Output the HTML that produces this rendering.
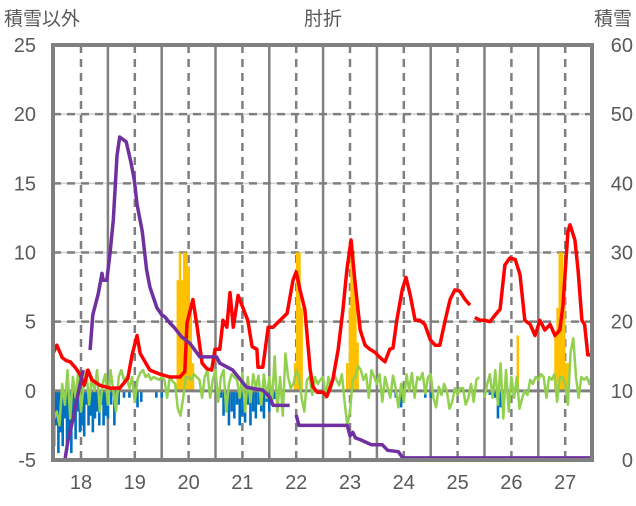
<!DOCTYPE html>
<html><head><meta charset="utf-8"><style>
body{margin:0;background:#fff;}
svg text{font-family:"Liberation Sans","Noto Sans CJK JP",sans-serif;fill:#595959;}
</style></head><body>
<svg id="c" width="636" height="501" xmlns="http://www.w3.org/2000/svg"></svg>
<script>
const xTicks=[18,19,20,21,22,23,24,25,26,27];
const leftTicks=[-5,0,5,10,15,20,25];
const rightTicks=[0,10,20,30,40,50,60];
const redT=[17.48,17.55,17.65,17.72,17.80,17.89,17.98,18.06,18.13,18.20,18.35,18.54,18.72,18.87,18.95,19.04,19.10,19.19,19.28,19.47,19.65,19.84,19.93,19.97,20.08,20.16,20.25,20.34,20.43,20.49,20.58,20.64,20.71,20.77,20.83,20.92,21.01,21.10,21.18,21.27,21.29,21.38,21.48,21.57,21.70,21.83,21.94,22.00,22.07,22.16,22.26,22.31,22.39,22.50,22.57,22.68,22.78,22.87,22.94,23.02,23.09,23.19,23.28,23.37,23.46,23.56,23.65,23.74,23.80,23.87,23.97,24.04,24.12,24.21,24.30,24.39,24.49,24.58,24.67,24.77,24.86,24.95,25.04,25.14,25.23];
const redV=[2.7,3.3,2.4,2.2,2.1,1.7,1.2,0.4,1.5,0.8,0.4,0.2,0.2,0.9,2.6,4.0,2.7,2.1,1.5,1.2,1.0,1.0,1.4,4.9,6.6,4.6,2.0,1.6,1.5,3.0,3.0,5.1,4.6,7.1,4.6,6.9,6.0,5.1,3.2,3.0,1.7,1.7,4.6,4.6,5.1,5.6,8.0,8.6,7.3,5.9,1.5,0.3,-0.1,-0.1,-0.4,0.8,3.0,5.9,8.7,10.9,8.0,4.4,3.3,3.0,2.8,2.4,2.1,3.0,3.1,5.1,7.3,8.2,6.9,5.1,5.1,4.8,3.7,3.3,3.3,5.1,6.6,7.3,7.2,6.6,6.2];
const redT2=[25.32,25.42,25.51,25.60,25.70,25.79,25.88,25.97,26.07,26.16,26.25,26.35,26.44,26.53,26.62,26.72,26.81,26.90,26.96,27.05,27.09,27.18,27.24,27.31,27.36,27.42,27.5];
const redV2=[5.3,5.1,5.1,5.0,5.5,5.9,9.1,9.6,9.5,8.4,5.1,4.8,4.0,5.1,4.4,4.8,4.0,4.4,6.2,11.5,12.0,10.9,8.7,5.1,4.8,2.6,2.6];
const greenV=[-2,-1.5,-2.5,0.5,-1,1.5,-2,1,-0.5,1.5,-1.5,0.5,1.5,-1,1,0,1.5,-1.5,0.5,1.2,
-1,1.5,0,-1.5,1,1.5,0.8,1,0.2,1,-0.8,0.8,1.3,1.5,1,1.2,0.8,1.0,0.9,0.8,
1,0.8,-0.5,1,0.7,0.5,-1.3,-1.8,-0.5,1,1,0.8,1.2,1.0,0.8,-0.5,1,1.5,-0.5,0.8,
1.5,-0.8,1,1.5,-1.5,0.5,1.2,1,0.8,-0.5,1.3,-1.5,1,-0.8,1.2,0.2,1.1,-1,1.2,-0.5,
1,-0.8,2.5,-1.5,1,-1.8,2.7,1,0.2,0.5,1.5,1.0,-0.5,-1.5,0.8,1,-0.3,1,0.5,0.8,
1,-0.5,1,0.2,1.2,0.8,0.4,1.2,-0.8,-2.5,-1.5,0.8,1,1.8,1.5,0.8,1.2,-0.5,1.5,1,
0.5,1.2,-0.8,1,0.2,-0.5,1.1,0.2,-1.2,0.5,-0.8,1.2,0,1.3,-0.5,1,0.8,1.3,-0.2,1,
1.2,-0.5,-1.2,0.3,-0.3,0.5,0,-1.3,-0.8,0.2,-0.3,0.2,0.2,-1,-0.5,0.5,-0.8,0.8,1,null,
-0.5,0.5,1.2,-0.5,1.5,-1,2,-2,1.5,-1.5,1,-0.5,1,-1.3,-0.5,0,-0.3,0.8,0.5,1,
0.8,1.2,1.0,-0.5,1.0,0.8,1.2,-0.8,1,1,0.5,-1,2.8,3.8,1,-0.5,1,0.8,1,0.5,1.2];
const greenStart=17.5, greenStep=0.05;
const blueT=[17.5,17.54,17.58,17.62,17.66,17.7,17.74,17.78,17.82,17.86,17.9,17.94,17.98,18.02,18.06,18.1,18.14,18.18,18.22,18.26,18.3,18.34,18.38,18.42,18.46,18.5,18.56,18.62,18.7,18.8,18.9,19.05,19.12,19.4,19.5,20.6,20.65,20.7,20.75,20.8,20.85,20.9,20.95,21.0,21.05,21.1,21.15,21.2,21.25,21.3,21.35,21.4,21.45,21.5,21.55,21.6,23.85,23.95,24.0,24.4,24.5,25.6,25.7,25.75,25.8,25.85];
const blueV=[-4,-2.5,-4.5,-3,-4,-2,-4.3,-3,-4.5,-2,-3.5,-1.5,-3,-2.5,-3.3,-1,-2.5,-1.8,-3,-2,-1.5,-2.5,-1,-2.5,-1.8,-2,-1,-2.5,-1,-0.5,-0.5,-1.2,-0.8,-0.5,-0.5,-0.5,-1.8,-1,-2.5,-1.5,-2,-1,-2.5,-1.8,-2.3,-1,-2.5,-1.5,-2,-1,-1.5,-2,-0.8,-1.5,-1,-0.6,-0.5,-1.2,-0.5,-0.5,-0.5,-0.3,-0.5,-2,-1.2,-0.8];
const orangeT=[19.8,19.84,19.88,19.92,19.96,20.0,20.04,20.08,21.98,22.02,22.06,22.1,22.95,23.0,23.03,23.06,23.1,23.14,26.12,26.82,26.86,26.9,26.94,26.98,27.02,27.06];
const orangeV=[8,10,8,10,10,9,6,2,2,10,10,6,2,6,10,10,7,3.5,4,4,6,10,10,7,2,2];
const purpleT=[17.48,17.70,17.76,17.85,17.94,18.04];
const purpleV=[0,0,2.9,5.8,9.4,13];
const purpleT2=[18.17,18.22,18.32,18.39,18.41,18.48,18.54,18.60,18.67,18.72,18.84,18.93,18.99,19.04,19.14,19.22,19.28,19.41,19.50,19.56,19.65,19.74,19.87,20.02,20.21,20.52,20.58,20.82,21.08,21.38,21.51,21.57,21.88];
const purpleV2=[15.9,21.0,24.0,27.0,26.0,26.0,30.0,34.7,44.0,46.7,46.0,43.0,40.5,37.0,33.0,27.5,25.0,22.0,21.0,20.7,19.8,19.1,17.8,16.9,14.9,14.9,14.0,13.0,10.5,10.1,9.1,7.9,7.9];
const purpleT3=[22.0,22.05,22.5,22.95,23.0,23.05,23.1,23.2,23.4,23.6,23.7,23.9,23.98,27.5];
const purpleV3=[6.5,5.0,5.0,5.0,3.5,4.0,3.2,2.9,2.2,2.2,1.4,1.2,0.3,0.3];

const L=53,R=592,T=45,B=460;
const xs=t=>81+(t-18)*53.8;
const yl=v=>B-(v+5)/30*(B-T);
const yr=v=>B-v/60*(B-T);
const svg=document.getElementById('c');
const NS='http://www.w3.org/2000/svg';
function el(tag,attrs,parent){const e=document.createElementNS(NS,tag);for(const k in attrs)e.setAttribute(k,attrs[k]);(parent||svg).appendChild(e);return e;}
const grid=el('g',{});


leftTicks.forEach(v=>{if(v>-5&&v<25)el('line',{x1:L,x2:R,y1:yl(v),y2:yl(v),stroke:'#d0d0d0','stroke-width':1.5},grid);});
leftTicks.forEach(v=>{if(v>-5&&v<25)el('line',{x1:L,x2:R,y1:yl(v),y2:yl(v),stroke:'#7f7f7f','stroke-width':2.5,'stroke-dasharray':'8,6'},grid);});
for(let y=17.5;y<=27.5;y+=1){const x=xs(y);if(x>L+2&&x<R-2)el('line',{x1:x,x2:x,y1:T,y2:B,stroke:'#808080','stroke-width':2.5},grid);}
xTicks.forEach(t=>el('line',{x1:xs(t),x2:xs(t),y1:T,y2:B,stroke:'#7f7f7f','stroke-width':2.5,'stroke-dasharray':'8,6'},grid));
orangeT.forEach((t,i)=>{const b=el('rect',{x:xs(t)-1.3,width:2.6,y:yl(orangeV[i]),height:yl(0)-yl(orangeV[i]),fill:'#ffc000'});

});
blueT.forEach((t,i)=>{const b=el('rect',{x:xs(t)-1.3,width:2.6,y:yl(0),height:yl(blueV[i])-yl(0),fill:'#0070c0'});

});
el('line',{x1:L,x2:R,y1:yl(0),y2:yl(0),stroke:'#808080','stroke-width':3});
function path(ts,vs,yf){let d='',pen=false;ts.forEach((t,i)=>{const v=vs[i];if(v===null){pen=false;return;}d+=(pen?'L':'M')+xs(t).toFixed(1)+','+yf(v).toFixed(1);pen=true;});return d;}
const gT=greenV.map((v,i)=>greenStart+i*greenStep);
const g=el('path',{d:path(gT,greenV,yl),fill:'none',stroke:'#92d050','stroke-width':2.5,'stroke-linejoin':'round'});


[[redT,redV],[redT2,redV2]].forEach(([a,b])=>{const p=el('path',{d:path(a,b,yl),fill:'none',stroke:'#ff0000','stroke-width':3.5,'stroke-linejoin':'round'});

});
[[purpleT,purpleV],[purpleT2,purpleV2],[purpleT3,purpleV3]].forEach(([a,b])=>{const p=el('path',{d:path(a,b,yr),fill:'none',stroke:'#7030a0','stroke-width':3.5,'stroke-linejoin':'round'});

});
const fr=el('rect',{x:L,y:T,width:R-L,height:B-T,fill:'none',stroke:'#808080','stroke-width':4});


leftTicks.forEach(v=>{const t=el('text',{x:36,y:yl(v)+7,'text-anchor':'end','font-size':20});t.textContent=v;

});
rightTicks.forEach(v=>{const t=el('text',{x:633,y:yr(v)+7,'text-anchor':'end','font-size':20});t.textContent=v;

});
xTicks.forEach(v=>{const t=el('text',{x:xs(v),y:489,'text-anchor':'middle','font-size':20});t.textContent=v;

});
const t1=el('text',{x:4,y:25,'font-size':19});t1.textContent='積雪以外';


const t2=el('text',{x:323,y:25,'font-size':19,'text-anchor':'middle'});t2.textContent='肘折';


const t3=el('text',{x:632,y:25,'font-size':19,'text-anchor':'end'});t3.textContent='積雪';


</script>
</body></html>
